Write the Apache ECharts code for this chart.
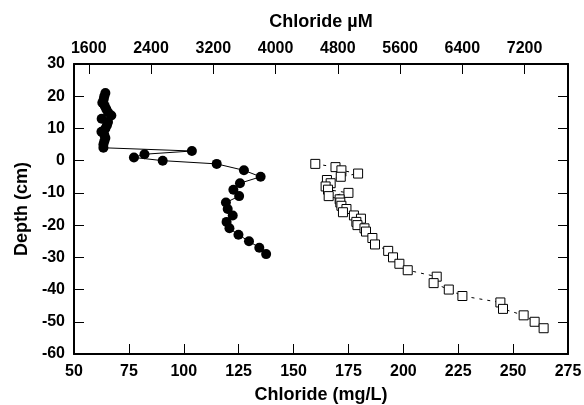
<!DOCTYPE html>
<html>
<head>
<meta charset="utf-8">
<script src="https://cdn.jsdelivr.net/npm/echarts@6/dist/echarts.min.js"></script>
<style>html,body{margin:0;padding:0;background:#fff;}#c{width:584px;height:405px;}</style>
</head>
<body>
<div id="c"></div>
<script>
// Filled circles (upper series)
const depthClosed = [21,20,19,18,17,16,15,14,13,12,11,10,9,8,7,6,5,4,3,2,1,0,-1,-3,-5,-7,-9,-11,-13,-15,-17,-19,-21,-23,-25,-27,-29];
const chlorideClosed = [64.3,63.8,63.5,62.9,64.0,64.7,65.5,67.0,62.6,65.5,65.0,64.3,62.5,63.8,64.3,63.8,63.4,63.4,103.7,82.1,77.3,90.4,115.0,127.4,135.0,125.6,122.6,125.2,119.2,120.0,122.3,119.5,120.8,124.9,129.7,134.4,137.5];
// Open squares
const depthOpen = [-1,-2,-3,-4,-5,-6,-7,-8,-9,-10,-11,-12,-13,-14,-15,-16,-17,-18,-19,-20,-21,-22,-24,-26,-28,-30,-32,-34,-36,-38,-40,-42,-44,-46,-48,-50,-52];
const chlorideOpen = [159.9,169.1,171.8,179.4,171.5,165.2,166.9,164.6,165.7,175.0,166.0,171.0,171.3,171.8,174.1,172.5,177.5,180.7,178.6,179.1,182.3,183.0,185.9,187.1,193.1,195.3,198.2,202.0,215.2,213.8,220.7,226.9,244.2,245.4,254.8,259.8,263.9];
// Axis ticks
const mgTicks = [50,75,100,125,150,175,200,225,250,275];
const depthTicks = [-60,-50,-40,-30,-20,-10,0,10,20,30];
const uMTicks = [1600,2400,3200,4000,4800,5600,6400,7200];
const CL_MOLAR = 35.45; // mg/mmol

const font = 'Liberation Sans, Arial, Helvetica, sans-serif';
const axisLine = {show:true, onZero:false, lineStyle:{color:'#000', width:2}};
const tick = {show:true, inside:true, length:10, lineStyle:{color:'#000', width:1}};
const lbl = {color:'#000', fontFamily:font, fontWeight:'bold', fontSize:16, formatter:(v)=>String(v)};
const nameStyle = {color:'#000', fontFamily:font, fontWeight:'bold', fontSize:18};

const chart = echarts.init(document.getElementById('c'), null, {renderer:'canvas'});
chart.setOption({
  backgroundColor:'#fff',
  animation:false,
  grid:{left:74, right:16, top:64, bottom:51, containLabel:false, outerBoundsMode:'none'},
  xAxis:[{
    type:'value', position:'bottom', min:mgTicks[0], max:mgTicks[mgTicks.length-1], interval:25,
    name:'Chloride (mg/L)', nameLocation:'middle', nameGap:32, nameTextStyle:nameStyle,
    axisLine:axisLine, axisTick:tick, splitLine:{show:false},
    axisLabel:Object.assign({margin:10}, lbl)
  },{
    type:'value', position:'top', min:mgTicks[0]*1000/CL_MOLAR, max:mgTicks[mgTicks.length-1]*1000/CL_MOLAR,
    name:'Chloride \u00b5M', nameLocation:'middle', nameGap:33, nameTextStyle:nameStyle,
    axisLine:axisLine,
    axisTick:Object.assign({customValues:uMTicks}, tick),
    splitLine:{show:false},
    axisLabel:Object.assign({margin:7, customValues:uMTicks}, lbl)
  }],
  yAxis:[{
    type:'value', position:'left', min:depthTicks[0], max:depthTicks[depthTicks.length-1], interval:10,
    name:'Depth (cm)', nameLocation:'middle', nameGap:41, nameTextStyle:nameStyle,
    axisLine:axisLine, axisTick:tick, splitLine:{show:false},
    axisLabel:Object.assign({margin:9}, lbl)
  },{
    type:'value', position:'right', min:depthTicks[0], max:depthTicks[depthTicks.length-1], interval:10,
    axisLine:axisLine, axisTick:tick, splitLine:{show:false}, axisLabel:{show:false}
  }],
  series:[{
    type:'line', xAxisIndex:0, yAxisIndex:0,
    data:chlorideClosed.map((v,i)=>[v, depthClosed[i]]),
    symbol:'circle', symbolSize:10,
    itemStyle:{color:'#000'},
    lineStyle:{color:'#000', width:1},
    silent:true
  },{
    type:'line', xAxisIndex:0, yAxisIndex:0,
    data:chlorideOpen.map((v,i)=>[v, depthOpen[i]]),
    symbol:'rect', symbolSize:9,
    itemStyle:{color:'#fff', borderColor:'#000', borderWidth:1},
    lineStyle:{color:'#000', width:1, type:[3,5]},
    silent:true
  }]
});
</script>
</body>
</html>
